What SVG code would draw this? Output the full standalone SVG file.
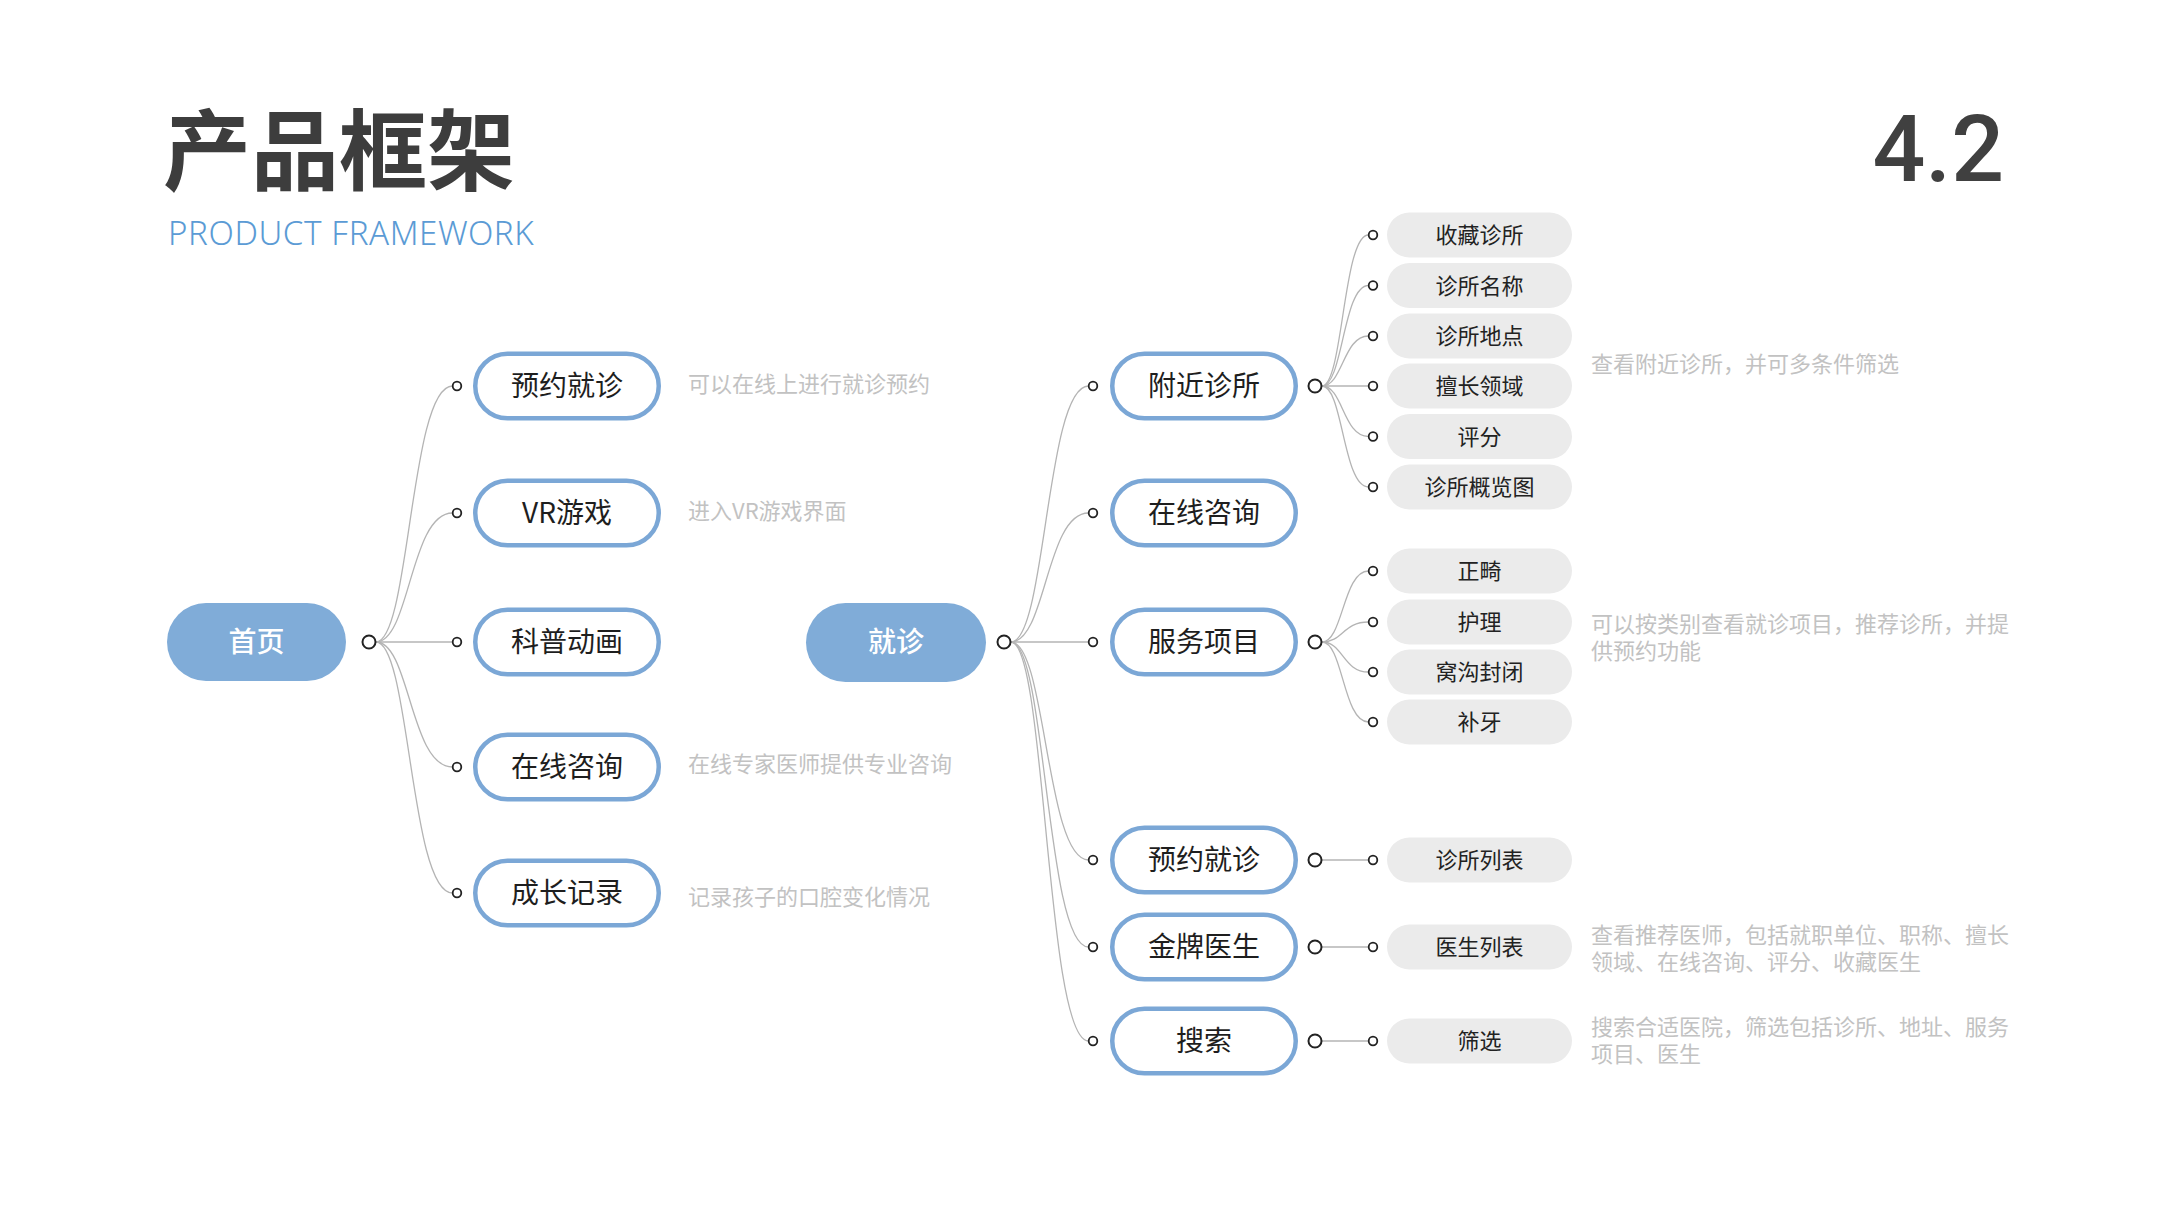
<svg xmlns="http://www.w3.org/2000/svg" width="2160" height="1215" viewBox="0 0 2160 1215">
<style>
.cjk{font-family:"Noto Sans CJK SC","Noto Sans",sans-serif}
.root{fill:#80acd8}
.rootTxt{fill:#ffffff;font-size:28px;font-weight:500;text-anchor:middle}
.child{fill:#ffffff;stroke:#7ba7d6;stroke-width:4.5}
.childTxt{fill:#1e1e1e;font-size:28px;text-anchor:middle}
.leaf{fill:#ebebeb}
.leafTxt{fill:#222222;font-size:22px;text-anchor:middle}
.desc{fill:#c2c2c2;font-size:22px}
.hub{fill:#ffffff;stroke:#222222;stroke-width:2}
.dot{fill:#ffffff;stroke:#222222;stroke-width:1.8}
.link{fill:none;stroke:#b4b4b4;stroke-width:1.3}
</style>
<rect width="2160" height="1215" fill="#ffffff"/>

<g id="title">
<text class="cjk" x="163" y="183" font-size="88" font-weight="bold" fill="#3d3d3d">产品框架</text>
<text x="168" y="245" font-family="'Noto Sans','Open Sans',sans-serif" font-size="33" font-weight="300" letter-spacing="0.6" fill="#5b9bd5">PRODUCT FRAMEWORK</text>
<text x="2004" y="181" text-anchor="end" font-family="Roboto,'Noto Sans',sans-serif" font-size="93" font-weight="500" fill="#404040">4.2</text>
</g>

<g id="connectors">
<!-- 首页 -->
<path class="link" d="M376 642 C410 642 410 386 452.5 386"/>
<path class="link" d="M376 642 C410 642 410 513 452.5 513"/>
<path class="link" d="M376 642 L452.5 642"/>
<path class="link" d="M376 642 C410 642 410 767 452.5 767"/>
<path class="link" d="M376 642 C410 642 410 893 452.5 893"/>
<!-- 就诊 -->
<path class="link" d="M1011 642 C1046 642 1046 386 1088.5 386"/>
<path class="link" d="M1011 642 C1046 642 1046 513 1088.5 513"/>
<path class="link" d="M1011 642 L1088.5 642"/>
<path class="link" d="M1011 642 C1046 642 1046 860 1088.5 860"/>
<path class="link" d="M1011 642 C1046 642 1046 947 1088.5 947"/>
<path class="link" d="M1011 642 C1046 642 1046 1041 1088.5 1041"/>
<!-- 附近诊所 -->
<path class="link" d="M1322 386 C1343 386 1343 235 1368.5 235"/>
<path class="link" d="M1322 386 C1343 386 1343 285.5 1368.5 285.5"/>
<path class="link" d="M1322 386 C1343 386 1343 336 1368.5 336"/>
<path class="link" d="M1322 386 L1368.5 386"/>
<path class="link" d="M1322 386 C1343 386 1343 436.5 1368.5 436.5"/>
<path class="link" d="M1322 386 C1343 386 1343 487 1368.5 487"/>
<!-- 服务项目 -->
<path class="link" d="M1322 642 C1343 642 1343 571 1368.5 571"/>
<path class="link" d="M1322 642 C1343 642 1343 622 1368.5 622"/>
<path class="link" d="M1322 642 C1343 642 1343 672 1368.5 672"/>
<path class="link" d="M1322 642 C1343 642 1343 722 1368.5 722"/>
<!-- single leaves -->
<path class="link" d="M1322 860 L1368.5 860"/>
<path class="link" d="M1322 947 L1368.5 947"/>
<path class="link" d="M1322 1041 L1368.5 1041"/>
</g>

<g id="n-shouye">
<rect class="root" x="167" y="603" width="179" height="78" rx="39"/>
<text class="cjk rootTxt" x="256.5" y="652">首页</text>
<circle class="hub" cx="369" cy="642" r="6.5"/>
</g>

<g id="n-l-yuyue">
<circle class="dot" cx="457" cy="386" r="4.3"/>
<rect class="child" x="475.25" y="353.75" width="183.5" height="64.5" rx="32.25"/>
<text class="cjk childTxt" x="567" y="396">预约就诊</text>
<text class="cjk desc" x="688" y="392">可以在线上进行就诊预约</text>
</g>
<g id="n-l-vr">
<circle class="dot" cx="457" cy="513" r="4.3"/>
<rect class="child" x="475.25" y="480.75" width="183.5" height="64.5" rx="32.25"/>
<text class="cjk childTxt" x="567" y="523">VR游戏</text>
<text class="cjk desc" x="688" y="519">进入VR游戏界面</text>
</g>
<g id="n-l-kepu">
<circle class="dot" cx="457" cy="642" r="4.3"/>
<rect class="child" x="475.25" y="609.75" width="183.5" height="64.5" rx="32.25"/>
<text class="cjk childTxt" x="567" y="652">科普动画</text>
</g>
<g id="n-l-zixun">
<circle class="dot" cx="457" cy="767" r="4.3"/>
<rect class="child" x="475.25" y="734.75" width="183.5" height="64.5" rx="32.25"/>
<text class="cjk childTxt" x="567" y="777">在线咨询</text>
<text class="cjk desc" x="688" y="772">在线专家医师提供专业咨询</text>
</g>
<g id="n-l-chengzhang">
<circle class="dot" cx="457" cy="893" r="4.3"/>
<rect class="child" x="475.25" y="860.75" width="183.5" height="64.5" rx="32.25"/>
<text class="cjk childTxt" x="567" y="903">成长记录</text>
<text class="cjk desc" x="688" y="905">记录孩子的口腔变化情况</text>
</g>

<g id="n-jiuzhen">
<rect class="root" x="806" y="603" width="180" height="79" rx="39.5"/>
<text class="cjk rootTxt" x="896" y="652">就诊</text>
<circle class="hub" cx="1004" cy="642" r="6.5"/>
</g>

<g id="n-r-fujin">
<circle class="dot" cx="1093" cy="386" r="4.3"/>
<rect class="child" x="1112.25" y="353.75" width="183.5" height="64.5" rx="32.25"/>
<text class="cjk childTxt" x="1204" y="396">附近诊所</text>
<circle class="hub" cx="1315" cy="386" r="6.5"/>
<text class="cjk desc" x="1591" y="372">查看附近诊所，并可多条件筛选</text>
</g>
<g id="n-r-zixun">
<circle class="dot" cx="1093" cy="513" r="4.3"/>
<rect class="child" x="1112.25" y="480.75" width="183.5" height="64.5" rx="32.25"/>
<text class="cjk childTxt" x="1204" y="523">在线咨询</text>
</g>
<g id="n-r-fuwu">
<circle class="dot" cx="1093" cy="642" r="4.3"/>
<rect class="child" x="1112.25" y="609.75" width="183.5" height="64.5" rx="32.25"/>
<text class="cjk childTxt" x="1204" y="652">服务项目</text>
<circle class="hub" cx="1315" cy="642" r="6.5"/>
<text class="cjk desc" x="1591" y="632">可以按类别查看就诊项目，推荐诊所，并提</text>
<text class="cjk desc" x="1591" y="659">供预约功能</text>
</g>
<g id="n-r-yuyue">
<circle class="dot" cx="1093" cy="860" r="4.3"/>
<rect class="child" x="1112.25" y="827.75" width="183.5" height="64.5" rx="32.25"/>
<text class="cjk childTxt" x="1204" y="870">预约就诊</text>
<circle class="hub" cx="1315" cy="860" r="6.5"/>
</g>
<g id="n-r-jinpai">
<circle class="dot" cx="1093" cy="947" r="4.3"/>
<rect class="child" x="1112.25" y="914.75" width="183.5" height="64.5" rx="32.25"/>
<text class="cjk childTxt" x="1204" y="957">金牌医生</text>
<circle class="hub" cx="1315" cy="947" r="6.5"/>
<text class="cjk desc" x="1591" y="943">查看推荐医师，包括就职单位、职称、擅长</text>
<text class="cjk desc" x="1591" y="970">领域、在线咨询、评分、收藏医生</text>
</g>
<g id="n-r-sousuo">
<circle class="dot" cx="1093" cy="1041" r="4.3"/>
<rect class="child" x="1112.25" y="1008.75" width="183.5" height="64.5" rx="32.25"/>
<text class="cjk childTxt" x="1204" y="1051">搜索</text>
<circle class="hub" cx="1315" cy="1041" r="6.5"/>
<text class="cjk desc" x="1591" y="1035">搜索合适医院，筛选包括诊所、地址、服务</text>
<text class="cjk desc" x="1591" y="1062">项目、医生</text>
</g>

<g id="leaf-shoucang"><circle class="dot" cx="1373" cy="235" r="4.3"/><rect class="leaf" x="1387" y="212.5" width="185" height="45" rx="22.5"/><text class="cjk leafTxt" x="1479.5" y="243">收藏诊所</text></g>
<g id="leaf-mingcheng"><circle class="dot" cx="1373" cy="285.5" r="4.3"/><rect class="leaf" x="1387" y="263" width="185" height="45" rx="22.5"/><text class="cjk leafTxt" x="1479.5" y="293.5">诊所名称</text></g>
<g id="leaf-didian"><circle class="dot" cx="1373" cy="336" r="4.3"/><rect class="leaf" x="1387" y="313.5" width="185" height="45" rx="22.5"/><text class="cjk leafTxt" x="1479.5" y="344">诊所地点</text></g>
<g id="leaf-shanchang"><circle class="dot" cx="1373" cy="386" r="4.3"/><rect class="leaf" x="1387" y="363.5" width="185" height="45" rx="22.5"/><text class="cjk leafTxt" x="1479.5" y="394">擅长领域</text></g>
<g id="leaf-pingfen"><circle class="dot" cx="1373" cy="436.5" r="4.3"/><rect class="leaf" x="1387" y="414" width="185" height="45" rx="22.5"/><text class="cjk leafTxt" x="1479.5" y="444.5">评分</text></g>
<g id="leaf-gailan"><circle class="dot" cx="1373" cy="487" r="4.3"/><rect class="leaf" x="1387" y="464.5" width="185" height="45" rx="22.5"/><text class="cjk leafTxt" x="1479.5" y="495">诊所概览图</text></g>

<g id="leaf-zhengji"><circle class="dot" cx="1373" cy="571" r="4.3"/><rect class="leaf" x="1387" y="548.5" width="185" height="45" rx="22.5"/><text class="cjk leafTxt" x="1479.5" y="579">正畸</text></g>
<g id="leaf-huli"><circle class="dot" cx="1373" cy="622" r="4.3"/><rect class="leaf" x="1387" y="599.5" width="185" height="45" rx="22.5"/><text class="cjk leafTxt" x="1479.5" y="630">护理</text></g>
<g id="leaf-wogou"><circle class="dot" cx="1373" cy="672" r="4.3"/><rect class="leaf" x="1387" y="649.5" width="185" height="45" rx="22.5"/><text class="cjk leafTxt" x="1479.5" y="680">窝沟封闭</text></g>
<g id="leaf-buya"><circle class="dot" cx="1373" cy="722" r="4.3"/><rect class="leaf" x="1387" y="699.5" width="185" height="45" rx="22.5"/><text class="cjk leafTxt" x="1479.5" y="730">补牙</text></g>

<g id="leaf-zhensuoliebiao"><circle class="dot" cx="1373" cy="860" r="4.3"/><rect class="leaf" x="1387" y="837.5" width="185" height="45" rx="22.5"/><text class="cjk leafTxt" x="1479.5" y="868">诊所列表</text></g>
<g id="leaf-yishengliebiao"><circle class="dot" cx="1373" cy="947" r="4.3"/><rect class="leaf" x="1387" y="924.5" width="185" height="45" rx="22.5"/><text class="cjk leafTxt" x="1479.5" y="955">医生列表</text></g>
<g id="leaf-shaixuan"><circle class="dot" cx="1373" cy="1041" r="4.3"/><rect class="leaf" x="1387" y="1018.5" width="185" height="45" rx="22.5"/><text class="cjk leafTxt" x="1479.5" y="1049">筛选</text></g>
</svg>
